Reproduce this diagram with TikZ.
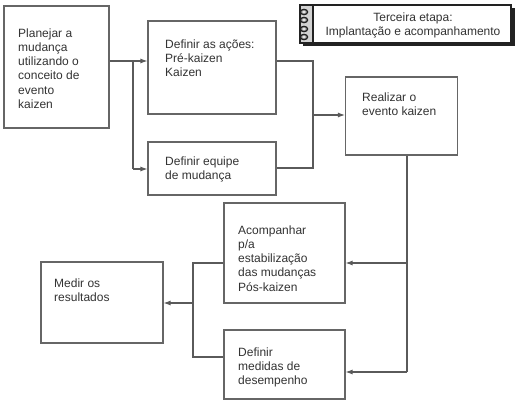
\documentclass[tikz,border=0pt]{standalone}
\usepackage{fontspec}
\setmainfont{Liberation Sans}
\usetikzlibrary{arrows.meta}
\definecolor{linec}{HTML}{5A5A5A}
\definecolor{boxc}{HTML}{666666}
\definecolor{txtc}{HTML}{333333}
\definecolor{dark}{HTML}{222222}
\begin{document}
\begin{tikzpicture}[x=1pt,y=-1pt,
  boxr/.style={draw=boxc,line width=1.1pt,fill=white},
  lbl/.style={anchor=north west,align=left,inner sep=0pt,text=txtc,font=\fontsize{12}{14.2}\selectfont},
  conn/.style={draw=linec,line width=1.1pt},
  arr/.style={conn,-{Latex[length=7pt,width=5pt]}}]
\useasboundingbox (0,0) rectangle (519,403);
% boxes
\node[boxr,minimum width=105pt,minimum height=122pt,inner sep=0pt] (b1) at (56.5,67) {};
\node[boxr,minimum width=128pt,minimum height=93pt,inner sep=0pt] (b2) at (212,67.5) {};
\node[boxr,minimum width=128pt,minimum height=53pt,inner sep=0pt] (b3) at (212,168.5) {};
\node[boxr,minimum width=112pt,minimum height=78pt,inner sep=0pt] (b4) at (401.5,116) {};
\node[boxr,minimum width=121pt,minimum height=100pt,inner sep=0pt] (b5) at (284.5,253) {};
\node[boxr,minimum width=121pt,minimum height=69pt,inner sep=0pt] (b6) at (284.5,364.5) {};
\node[boxr,minimum width=122pt,minimum height=81pt,inner sep=0pt] (b7) at (102,302.5) {};
% labels
\node[lbl] (t1) at (18,27.1) {\strut Planejar a\\mudança\\utilizando o\\conceito de\\evento\\kaizen};
\node[lbl] (t2) at (165,38.1) {\strut Definir as ações:\\Pré-kaizen\\Kaizen};
\node[lbl] (t3) at (165,155.1) {\strut Definir equipe\\de mudança};
\node[lbl] (t4) at (362,91.1) {\strut Realizar o\\evento kaizen};
\node[lbl] (t5) at (238,224.1) {\strut Acompanhar\\p/a\\estabilização\\das mudanças\\Pós-kaizen};
\node[lbl] (t6) at (238,346.1) {\strut Definir\\medidas de\\desempenho};
\node[lbl] (t7) at (54,277.1) {\strut Medir os\\resultados};
% notebook box
\fill[dark] (303,8) rectangle (515,46);
\draw[dark,line width=2pt,fill=white] (300,5) rectangle (511,43);
\fill[gray!35] (301,6) rectangle (312,42);
\draw[dark,line width=1.8pt] (313,5) -- (313,43);
\foreach \yy in {12,20,29,37}{
  \draw[dark,line width=1.3pt,fill=gray!60] (304,\yy) ellipse (3.6pt and 2.6pt);
  \fill[white] (304,\yy) ellipse (1.4pt and 0.9pt);
}
\node[inner sep=0pt,align=center,text=txtc,font=\fontsize{12}{14}\selectfont] (nb) at (413,25) {Terceira etapa:\\Implantação e acompanhamento};
% connectors
\coordinate (j1) at (133,61);
\coordinate (j1b) at (133,169);
\draw[conn] (b1.east |- j1) -- (j1);
\draw[arr] (j1) -- (b2.west |- j1);
\draw[conn] (j1) -- (j1b);
\draw[arr] (j1b) -- (b3.west |- j1b);
\coordinate (j2a) at (313,61);
\coordinate (j2b) at (313,168);
\coordinate (j2m) at (313,115);
\draw[conn] (b2.east |- j2a) -- (j2a) -- (j2b) -- (b3.east |- j2b);
\draw[arr] (j2m) -- (b4.west |- j2m);
\coordinate (j3a) at (407,263);
\coordinate (j3b) at (407,372);
\draw[conn] (b4.south -| j3a) -- (j3b);
\draw[arr] (j3a) -- (b5.east |- j3a);
\draw[arr] (j3b) -- (b6.east |- j3b);
\coordinate (j4a) at (193,263);
\coordinate (j4b) at (193,357);
\coordinate (j4m) at (193,303);
\draw[conn] (b5.west |- j4a) -- (j4a) -- (j4b) -- (b6.west |- j4b);
\draw[arr] (j4m) -- (b7.east |- j4m);
\end{tikzpicture}
\end{document}
